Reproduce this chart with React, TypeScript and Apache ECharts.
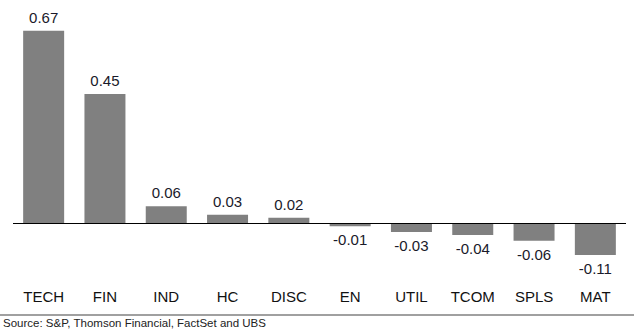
import React, { useEffect, useRef } from "react";
import * as echarts from "echarts";

const categories = ["TECH", "FIN", "IND", "HC", "DISC", "EN", "UTIL", "TCOM", "SPLS", "MAT"];
const values = [0.67, 0.45, 0.06, 0.03, 0.02, -0.01, -0.03, -0.04, -0.06, -0.11];
const sourceText = "Source: S&P, Thomson Financial, FactSet and UBS";

export default function App() {
  const ref = useRef<HTMLDivElement>(null);
  useEffect(() => {
    if (!ref.current) return;
    const chart = echarts.init(ref.current, null, { renderer: "svg" });
    const font = "'Liberation Sans', Arial, sans-serif";
    chart.setOption({
      animation: false,
      backgroundColor: "#ffffff",
      grid: { left: 13, right: 8, top: 22, bottom: 48, containLabel: false },
      xAxis: {
        type: "category",
        data: categories,
        axisLine: { show: false, onZero: false },
        axisTick: { show: false },
        axisLabel: { color: "#111111", fontSize: 15, fontFamily: font, margin: 8 },
      },
      yAxis: {
        type: "value",
        min: -0.2,
        max: 0.7,
        show: false,
        splitLine: { show: false },
      },
      series: [
        {
          type: "bar",
          barWidth: 41,
          itemStyle: { color: "#808080" },
          data: values.map((v) => ({
            value: v,
            label: { position: v >= 0 ? "top" : "bottom" },
          })),
          label: {
            show: true,
            distance: 6,
            color: "#1a1a2a",
            fontSize: 15,
            fontFamily: font,
            formatter: (p: any) => p.value.toFixed(2),
          },
          markLine: {
            silent: true,
            symbol: "none",
            label: { show: false },
            lineStyle: { color: "#000000", width: 1.2, type: "solid" },
            data: [{ yAxis: 0 }],
          },
        },
      ],
      graphic: [
        {
          type: "line",
          shape: { x1: 0, y1: 315, x2: 634, y2: 315 },
          style: { stroke: "#808080", lineWidth: 1.5 },
        },
        {
          type: "text",
          x: 3,
          y: 317,
          style: { text: sourceText, fontSize: 11.5, fontFamily: font, fill: "#222222" },
        },
      ],
    });
    return () => chart.dispose();
  }, []);
  return (
    <div
      ref={ref}
      style={{ position: "fixed", left: 0, top: 0, width: 634, height: 329 }}
    />
  );
}
